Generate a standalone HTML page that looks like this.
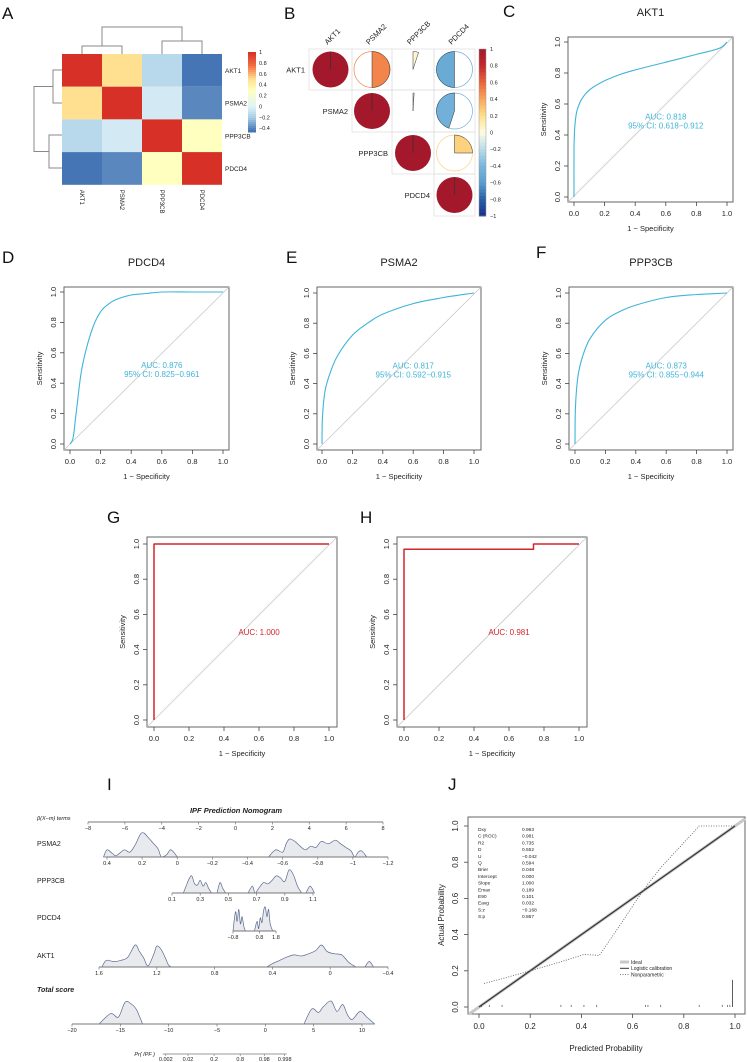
<!DOCTYPE html>
<html><head><meta charset="utf-8"><style>
html,body{margin:0;padding:0;background:#fff}
svg{display:block;font-family:"Liberation Sans",sans-serif}
</style></head><body>
<svg id="fig" width="747" height="1062" viewBox="0 0 747 1062" xmlns="http://www.w3.org/2000/svg"></svg>
<script>
// ---------- DATA ----------
const genes = ["AKT1","PSMA2","PPP3CB","PDCD4"];
const heatValues = [[1,0.5,-0.15,-0.45],[0.5,1,-0.05,-0.4],[-0.15,-0.05,1,0.3],[-0.45,-0.4,0.3,1]];
const heatTicks = [1,0.8,0.6,0.4,0.2,0,-0.2,-0.4];
const corrValues = [[1,0.5,0.05,-0.5],[0.5,1,0.01,-0.45],[0.05,0.01,1,0.25],[-0.5,-0.45,0.25,1]];
const corrTicks = [1,0.8,0.6,0.4,0.2,0,-0.2,-0.4,-0.6,-0.8,-1];
const rocTicks = [0,0.2,0.4,0.6,0.8,1.0];
const akt1Fpr = [0,0,0.003,0.01,0.02,0.05,0.1,0.2,0.3,0.4,0.6,0.8,0.95,1];
const akt1Tpr = [0,0.3,0.42,0.5,0.56,0.63,0.69,0.75,0.79,0.82,0.87,0.92,0.96,1];
const pdcd4Fpr = [0,0.02,0.04,0.07,0.1,0.15,0.2,0.25,0.3,0.4,0.5,0.6,0.8,1];
const pdcd4Tpr = [0,0.04,0.2,0.45,0.6,0.77,0.87,0.92,0.95,0.98,0.99,1,1,1];
const psma2Fpr = [0,0.003,0.02,0.05,0.1,0.2,0.3,0.4,0.6,0.8,1];
const psma2Tpr = [0,0.18,0.35,0.46,0.58,0.72,0.8,0.86,0.93,0.97,1];
const ppp3cbFpr = [0,0.003,0.02,0.05,0.1,0.2,0.3,0.4,0.6,0.8,1];
const ppp3cbTpr = [0,0.25,0.45,0.58,0.7,0.82,0.88,0.92,0.97,0.99,1];
const gFpr = [0,0,1]; const gTpr = [0,1,1];
const hFpr = [0,0,0.74,0.74,1]; const hTpr = [0,0.97,0.97,1,1];
const pointsTicks = [-8,-6,-4,-2,0,2,4,6,8];
const psma2Ticks = [0.4,0.2,0,-0.2,-0.4,-0.6,-0.8,-1,-1.2];
const ppp3cbTicks = [0.1,0.3,0.5,0.7,0.9,1.1];
const pdcd4Ticks = [-0.8,0.8,1.8];
const akt1Ticks = [1.6,1.2,0.8,0.4,0,-0.4];
const totalTicks = [-20,-15,-10,-5,0,5,10];
const prLabels = ["0.002","0.02","0.2","0.8","0.98","0.998"];
const prScores = [-10.3,-8.0,-5.3,-2.6,-0.1,2.0];
const psma2DensX = [0.42,0.4,0.37,0.35,0.33,0.3,0.27,0.24,0.21,0.19,0.17,0.14,0.11,0.09,0.06,0.04,0.02,0.0,-0.52,-0.56,-0.6,-0.62,-0.64,-0.67,-0.7,-0.73,-0.76,-0.79,-0.82,-0.86,-0.9,-0.93,-0.96,-0.99,-1.01,-1.03,-1.05,-1.08];
const psma2DensY = [0,0.3,0.15,0.05,0.15,0.3,0.2,0.5,0.95,1,0.85,0.6,0.35,0,0.1,0.3,0.2,0,0,0.3,0.2,0.55,0.75,0.65,0.45,0.3,0.45,0.4,0.65,0.55,0.7,0.55,0.4,0.25,0,0.2,0.25,0];
const ppp3cbDensX = [0.18,0.2,0.22,0.24,0.26,0.28,0.3,0.32,0.34,0.36,0.38,0.42,0.44,0.46,0.48,0.64,0.67,0.69,0.72,0.75,0.78,0.81,0.84,0.87,0.9,0.93,0.96,0.99,1.02,1.05,1.08,1.11];
const ppp3cbDensY = [0,0.3,0.6,0.75,0.4,0.35,0.55,0.3,0.45,0.2,0,0,0.45,0.2,0,0,0.3,0,0.25,0.45,0.4,0.55,0.75,0.65,0.5,1,0.8,0.3,0,0,0.3,0];
const pdcd4DensX = [-0.8,-0.65,-0.55,-0.45,-0.35,-0.25,-0.15,-0.05,0.5,0.65,0.75,0.85,0.95,1.05,1.15,1.25,1.35,1.45,1.6];
const pdcd4DensY = [0,0.8,0.4,0.9,0.3,0.6,0.2,0,0,0.4,0.1,0.55,0.35,0.85,1,0.6,0.9,0.3,0];
const akt1DensX = [1.58,1.55,1.5,1.45,1.4,1.35,1.32,1.29,1.26,1.22,1.2,1.17,1.14,1.12,1.1,1.05,0.44,0.4,0.35,0.3,0.25,0.2,0.15,0.1,0.06,0.02,-0.03,-0.08,-0.13,-0.18,-0.24,-0.27,-0.3];
const akt1DensY = [0,0.3,0.25,0.3,0.45,1,0.7,0.4,0.05,0.6,0.95,0.8,0.4,0.1,0,0,0,0.15,0.3,0.45,0.55,0.5,0.6,0.75,1,0.7,0.6,0.55,0.2,0,0,0.25,0];
const totalDensX = [-20,-17.2,-16,-15.2,-14.5,-13.8,-13.3,-12.7,4,4.8,5.5,6,6.8,7.4,8,8.5,9,9.8,10.5,11.3];
const totalDensY = [0,0,0.45,0.3,0.95,0.85,0.6,0,0,0.65,0.5,0.75,1,0.55,0.85,0.4,0.2,0.55,0.3,0];
const calTicks = [0,0.2,0.4,0.6,0.8,1.0];
const nonparX = [0.02,0.1,0.2,0.32,0.41,0.47,0.55,0.62,0.66,0.71,0.86,1];
const nonparY = [0.13,0.16,0.2,0.25,0.29,0.285,0.45,0.6,0.68,0.77,1,1];
const rugX = [0.01,0.04,0.09,0.32,0.36,0.41,0.46,0.65,0.66,0.71,0.86,0.95,0.97,0.98];
const statNames = ["Dxy","C (ROC)","R2","D","U","Q","Brier","Intercept","Slope","Emax","E90","Eavg","S:z","S:p"];
const statValues = ["0.963","0.981","0.735","0.552","\u22120.042","0.594","0.048","0.000","1.000","0.189","0.101","0.032","\u22120.168","0.867"];

// ---------- HELPERS ----------
const svg = document.getElementById('fig');
const NS = "http://www.w3.org/2000/svg";
function mk(tag, attrs, parent){const e=document.createElementNS(NS,tag);for(const k in attrs)e.setAttribute(k,attrs[k]);(parent||svg).appendChild(e);return e;}
function txt(x,y,s,size,attrs,parent){const e=mk('text',Object.assign({x:x,y:y,'font-size':size,fill:'#222'},attrs||{}),parent);e.textContent=s;return e;}
function smooth(pts,maxY){
  const cl=v=>maxY===undefined?v:Math.min(v,maxY);
  let d='M'+pts[0][0].toFixed(1)+','+pts[0][1].toFixed(1);
  for(let i=0;i<pts.length-1;i++){
    const p0=pts[i-1]||pts[i],p1=pts[i],p2=pts[i+1],p3=pts[i+2]||p2;
    const c1=[p1[0]+(p2[0]-p0[0])/6,cl(p1[1]+(p2[1]-p0[1])/6)],c2=[p2[0]-(p3[0]-p1[0])/6,cl(p2[1]-(p3[1]-p1[1])/6)];
    d+='C'+c1[0].toFixed(1)+','+c1[1].toFixed(1)+' '+c2[0].toFixed(1)+','+c2[1].toFixed(1)+' '+p2[0].toFixed(1)+','+p2[1].toFixed(1);
  }
  return d;
}
function lerpColor(stops,v){for(let i=0;i<stops.length-1;i++){const a=stops[i],b=stops[i+1];if(v>=a[0]&&v<=b[0]){const t=(v-a[0])/(b[0]-a[0]);const ca=a[1].match(/\w\w/g).map(h=>parseInt(h,16)),cb=b[1].match(/\w\w/g).map(h=>parseInt(h,16));return 'rgb('+ca.map((c,j)=>Math.round(c+(cb[j]-c)*t)).join(',')+')';}}return v<stops[0][0]?stops[0][1]:stops[stops.length-1][1];}
const heatStops=[[-0.45,'#4575b4'],[-0.2,'#abd0e6'],[0,'#e0f3f8'],[0.3,'#ffffbf'],[0.5,'#fee090'],[0.75,'#f46d43'],[1,'#d73027']];
const corrStops=[[-1,'#1a2f8a'],[-0.8,'#2b5fa8'],[-0.6,'#5a9fd0'],[-0.4,'#7ab6dc'],[-0.2,'#b9dcec'],[0,'#fffbe3'],[0.2,'#fde08a'],[0.4,'#f9a65a'],[0.6,'#e8643c'],[0.8,'#c2282e'],[1,'#a3182a']];

[["A",2,19],["B",284,19],["C",503,17],["D",2,263],["E",286,263],["F",536,258],["G",107,523],["H",360,523],["I",107,790],["J",448,790]].forEach(l=>{
  const t=txt(l[1],l[2],l[0],17,{fill:'#111'});
  
  
});

// ---------- PANEL A ----------
(function(){
  const g=mk('g',{});  
  const x0=62,y0=54,cw=40,ch=32.7;
  heatValues.forEach((row,i)=>row.forEach((v,j)=>{
    const r=mk('rect',{x:x0+j*cw,y:y0+i*ch,width:cw,height:ch,fill:lerpColor(heatStops,v)},g);
    
    
  }));
  genes.forEach((n,i)=>{
    const t=txt(x0+4*cw+3,y0+i*ch+ch/2+2.5,n,6.5,{},g);
     
    const t2=txt(0,0,n,6,{transform:'translate('+(x0+i*cw+cw/2-2)+','+(y0+4*ch+5)+') rotate(90)'},g);
     
  });
  const den=mk('path',{d:'M82,54V46H122V54M162,54V41H202V54M102,46V27H182V41M62,70H53V103H62M62,135H49V168H62M53,86.5H34V151.5H49',fill:'none',stroke:'#888','stroke-width':1},g);
   
  const cbx=248,cby=52,cbh=80,vmin=-0.47,vmax=1;
  for(let k=0;k<40;k++){const v=vmax-(vmax-vmin)*(k+0.5)/40;mk('rect',{x:cbx,y:cby+k*cbh/40,width:8,height:cbh/40+0.5,fill:lerpColor(heatStops,v)},g);}
  heatTicks.forEach(v=>{const y=cby+(vmax-v)/(vmax-vmin)*cbh;const t=txt(cbx+11,y+2,String(v).replace('-','\u2212'),5.5,{},g);});
})();

// ---------- PANEL B ----------
(function(){
  const g=mk('g',{});  
  const xs=[309,352,392,434,475], ys=[49,90,132,174,216];
  for(let i=0;i<4;i++)for(let j=i;j<4;j++){
    mk('rect',{x:xs[j],y:ys[i],width:xs[j+1]-xs[j],height:ys[i+1]-ys[i],fill:'none',stroke:'#ddd','stroke-width':0.7},g);
    const cx=(xs[j]+xs[j+1])/2, cy=(ys[i]+ys[i+1])/2, r=18, v=corrValues[i][j];
    const col=lerpColor(corrStops,v);
    if(Math.abs(v)>=0.999){const c=mk('circle',{cx:cx,cy:cy,r:r,fill:col},g);mk('line',{x1:cx,y1:cy,x2:cx,y2:cy-r,stroke:'#333','stroke-width':0.7},g);continue;}
    if(Math.abs(v)>0.15)mk('circle',{cx:cx,cy:cy,r:r,fill:'none',stroke:col,'stroke-width':0.7},g);
    const ang=v*2*Math.PI, ex=cx+r*Math.sin(ang), ey=cy-r*Math.cos(ang);
    const large=Math.abs(v)>0.5?1:0, sweep=v>0?1:0;
    const p=mk('path',{d:'M'+cx+','+cy+'L'+cx+','+(cy-r)+'A'+r+','+r+' 0 '+large+' '+sweep+' '+ex+','+ey+'Z',fill:col,stroke:'#333','stroke-width':0.5},g);
     
  }
  genes.forEach((n,i)=>{
    const t=txt(xs[i]-4,(ys[i]+ys[i+1])/2+3,n,7.5,{'text-anchor':'end'},g);
     
    const t2=txt(0,0,n,7.5,{transform:'translate('+((xs[i]+xs[i+1])/2-3)+',45) rotate(-45)'},g);
     
  });
  const cbx=479,cby=49,cbh=167;
  for(let k=0;k<50;k++){const v=1-2*(k+0.5)/50;mk('rect',{x:cbx,y:cby+k*cbh/50,width:7,height:cbh/50+0.5,fill:lerpColor(corrStops,v)},g);}
  mk('rect',{x:cbx,y:cby,width:7,height:cbh,fill:'none',stroke:'#999','stroke-width':0.5},g);
  corrTicks.forEach(v=>{const y=cby+(1-v)/2*cbh;const t=txt(cbx+11,y+2,String(v).replace('-','\u2212'),5.5,{},g);});
})();

// ---------- ROC ----------
function roc(name,L,fpr,tpr,color,title,auc,ci,sw,isSmooth){
  const g=mk('g',{});  
  const sx=v=>L.x0+v*(L.x1-L.x0), sy=v=>L.y0-v*(L.y0-L.y1);
  const box=mk('rect',{x:L.bx0,y:L.by0,width:L.bx1-L.bx0,height:L.by1-L.by0,fill:'none',stroke:'#666','stroke-width':1},g);
   
  mk('line',{x1:L.bx0,y1:L.by1,x2:L.bx1,y2:L.by0,stroke:'#c8c8c8','stroke-width':0.8},g);
  rocTicks.forEach(v=>{
    mk('line',{x1:sx(v),y1:L.by1,x2:sx(v),y2:L.by1+4,stroke:'#444','stroke-width':0.8},g);
    const t=txt(sx(v),L.by1+14,v.toFixed(1),7.5,{'text-anchor':'middle'},g);
    mk('line',{x1:L.bx0,y1:sy(v),x2:L.bx0-4,y2:sy(v),stroke:'#444','stroke-width':0.8},g);
    const t2=txt(0,0,v.toFixed(1),7.5,{'text-anchor':'middle',transform:'translate('+(L.bx0-8)+','+sy(v)+') rotate(-90)'},g);
  });
  const xl=txt((L.bx0+L.bx1)/2,L.by1+29,'1 \u2212 Specificity',7.5,{'text-anchor':'middle'},g);
  const yl=txt(0,0,'Sensitivity',7.5,{'text-anchor':'middle',transform:'translate('+(L.bx0-22)+','+((L.by0+L.by1)/2)+') rotate(-90)'},g);
  if(title){const tt=txt((L.bx0+L.bx1)/2,L.by0-21,title,11,{'text-anchor':'middle'},g);}
  const pts=fpr.map((f,i)=>[sx(f),sy(tpr[i])]);
  let d;
  if(isSmooth){d=smooth(pts);}else{d='';pts.forEach((p,i)=>{d+=(i?'L':'M')+p[0].toFixed(1)+','+p[1].toFixed(1);});}
  const p=mk('path',{d:d,fill:'none',stroke:color,'stroke-width':sw,'stroke-linejoin':'round'},g);
  const a=txt(sx(0.6),sy(0.5)+(ci?0:3),auc,8,{'text-anchor':'middle',fill:color},g);
  if(ci){const c=txt(sx(0.6),sy(0.5)+9,ci,8,{'text-anchor':'middle',fill:color},g);}
}
const cyan='#3fb4d8', red='#d3262b';
roc('akt1',{bx0:568,bx1:733,by0:37,by1:202,x0:574,x1:727,y0:197,y1:42},akt1Fpr,akt1Tpr,cyan,'AKT1','AUC: 0.818','95% CI: 0.618\u22120.912',1.1,true);
roc('pdcd4',{bx0:64,bx1:229,by0:287,by1:450,x0:70,x1:223,y0:444,y1:292},pdcd4Fpr,pdcd4Tpr,cyan,'PDCD4','AUC: 0.876','95% CI: 0.825\u22120.961',1.1,true);
roc('psma2',{bx0:317,bx1:481,by0:287,by1:450,x0:322,x1:474,y0:444,y1:293},psma2Fpr,psma2Tpr,cyan,'PSMA2','AUC: 0.817','95% CI: 0.592\u22120.915',1.1,true);
roc('ppp3cb',{bx0:569,bx1:733,by0:287,by1:450,x0:575,x1:727,y0:444,y1:293},ppp3cbFpr,ppp3cbTpr,cyan,'PPP3CB','AUC: 0.873','95% CI: 0.855\u22120.944',1.1,true);
roc('g',{bx0:147,bx1:337,by0:537,by1:727,x0:154,x1:329,y0:720,y1:544},gFpr,gTpr,red,null,'AUC: 1.000',null,1.5,false);
roc('h',{bx0:397,bx1:587,by0:537,by1:727,x0:404,x1:579,y0:720,y1:544},hFpr,hTpr,red,null,'AUC: 0.981',null,1.5,false);

// ---------- PANEL I: NOMOGRAM ----------
(function(){
  const g=mk('g',{});  
  const tt=txt(236,813,'IPF Prediction Nomogram',7.5,{'text-anchor':'middle','font-weight':'bold','font-style':'italic'},g);
  function axis(name,y,a,pa,b,pb,ticks,dx,dy,hmax){
    const s=v=>pa+(v-a)/(b-a)*(pb-pa);
    const ag=mk('g',{},g);  
    if(dx){
      // split into segments at consecutive zero-height points
      const segs=[];let cur=[];
      dx.forEach((v,i)=>{cur.push([s(v),y-dy[i]*hmax]);if(dy[i]===0&&i+1<dx.length&&dy[i+1]===0){if(cur.length>1)segs.push(cur);cur=[];}});
      if(cur.length>1)segs.push(cur);
      segs.forEach(seg=>{
        const d=smooth(seg,y)+'Z';
        const p=mk('path',{d:d,fill:'#e8eaee',stroke:'#5a6a90','stroke-width':0.7,'stroke-linejoin':'round'},ag);
        
        
      });
    }
    mk('line',{x1:s(ticks[0]),y1:y,x2:s(ticks[ticks.length-1]),y2:y,stroke:'#777','stroke-width':1},ag);
    ticks.forEach(v=>{mk('line',{x1:s(v),y1:y,x2:s(v),y2:y+2.5,stroke:'#777','stroke-width':0.7},ag);const t=txt(s(v),y+8,String(v).replace('-','\u2212'),5.5,{'text-anchor':'middle'},ag);});
    return s;
  }
  const lab=(s,y,attrs)=>{const t=txt(37,y,s,7,attrs||{},g);};
  lab('\u03b2(X\u2212m) terms',820,{'font-size':5.5,'font-style':'italic'});
  axis('points',822,-8,88,8,383,pointsTicks);
  lab('PSMA2',846); axis('psma2',857,0.4,107,-1.2,388,psma2Ticks,psma2DensX,psma2DensY,24);
  lab('PPP3CB',883); axis('ppp3cb',893,0.1,172,1.1,313,ppp3cbTicks,ppp3cbDensX,ppp3cbDensY,23);
  lab('PDCD4',920); axis('pdcd4',931,-0.8,233,1.8,276,pdcd4Ticks,pdcd4DensX,pdcd4DensY,24);
  lab('AKT1',958); axis('akt1',967,1.6,99,-0.4,388,akt1Ticks,akt1DensX,akt1DensY,22);
  lab('Total score',992,{'font-weight':'bold','font-style':'italic'});
  axis('total',1024,-20,72,10,362,totalTicks,totalDensX,totalDensY,23);
  const s=v=>72+(v+20)/30*290;
  const pl=txt(155,1056,'Pr( IPF )',5.5,{'text-anchor':'end','font-style':'italic'},g);
  mk('line',{x1:s(prScores[0])-3,y1:1054,x2:s(prScores[prScores.length-1])+2,y2:1054,stroke:'#777','stroke-width':0.8},g);
  prLabels.forEach((l,i)=>{mk('line',{x1:s(prScores[i]),y1:1054,x2:s(prScores[i]),y2:1056,stroke:'#777','stroke-width':0.6},g);const t=txt(s(prScores[i]),1061,l,5.5,{'text-anchor':'middle'},g);});
})();

// ---------- PANEL J: CALIBRATION ----------
(function(){
  const g=mk('g',{});  
  const x0=479,x1=735,y0=1007,y1=826;
  const sx=v=>x0+v*(x1-x0), sy=v=>y0-v*(y0-y1);
  mk('rect',{x:468,y:817,width:277,height:197,fill:'none',stroke:'#666','stroke-width':1},g);
  const ideal=mk('line',{x1:sx(-0.04),y1:sy(-0.04),x2:sx(1.04),y2:sy(1.04),stroke:'#c8c8c8','stroke-width':3},g);
  const lg=mk('line',{x1:sx(0),y1:sy(0),x2:sx(1),y2:sy(1),stroke:'#333','stroke-width':1.2},g);
  let d='';nonparX.forEach((v,i)=>{d+=(i?'L':'M')+sx(v).toFixed(1)+','+sy(nonparY[i]).toFixed(1);});
  const np=mk('path',{d:d,fill:'none',stroke:'#555','stroke-width':0.8,'stroke-dasharray':'1,1.5'},g);
  rugX.forEach(v=>{mk('line',{x1:sx(v),y1:sy(0),x2:sx(v),y2:sy(0.012),stroke:'#333','stroke-width':0.6},g);});
  mk('line',{x1:sx(0.99),y1:sy(0),x2:sx(0.99),y2:sy(0.15),stroke:'#333','stroke-width':0.8},g);
  calTicks.forEach(v=>{
    mk('line',{x1:sx(v),y1:1014,x2:sx(v),y2:1018,stroke:'#444','stroke-width':0.8},g);
    const t=txt(sx(v),1029,v.toFixed(1),8,{'text-anchor':'middle'},g);
    mk('line',{x1:468,y1:sy(v),x2:464,y2:sy(v),stroke:'#444','stroke-width':0.8},g);
    const t2=txt(0,0,v.toFixed(1),8,{'text-anchor':'middle',transform:'translate(458,'+sy(v)+') rotate(-90)'},g);
  });
  const xl=txt(606,1051,'Predicted Probability',8,{'text-anchor':'middle'},g);
  const yl=txt(0,0,'Actual Probability',8,{'text-anchor':'middle',transform:'translate(444,915) rotate(-90)'},g);
  statNames.forEach((n,i)=>{
    const y=831+i*6.7;
    const a=txt(478,y,n,4.8,{},g);
    const b=txt(522,y,statValues[i],4.8,{},g);
  });
  const leg=[['Ideal','#c8c8c8',3,null],['Logistic calibration','#333',1,null],['Nonparametric','#555',0.8,'1,1.5']];
  leg.forEach((l,i)=>{const y=962+i*6.3;const ln=mk('line',{x1:620,y1:y,x2:629,y2:y,stroke:l[1],'stroke-width':l[2]},g);if(l[3])ln.setAttribute('stroke-dasharray',l[3]);
    const t=txt(631,y+1.8,l[0],5,{},g);});
})();
</script>
</body></html>
